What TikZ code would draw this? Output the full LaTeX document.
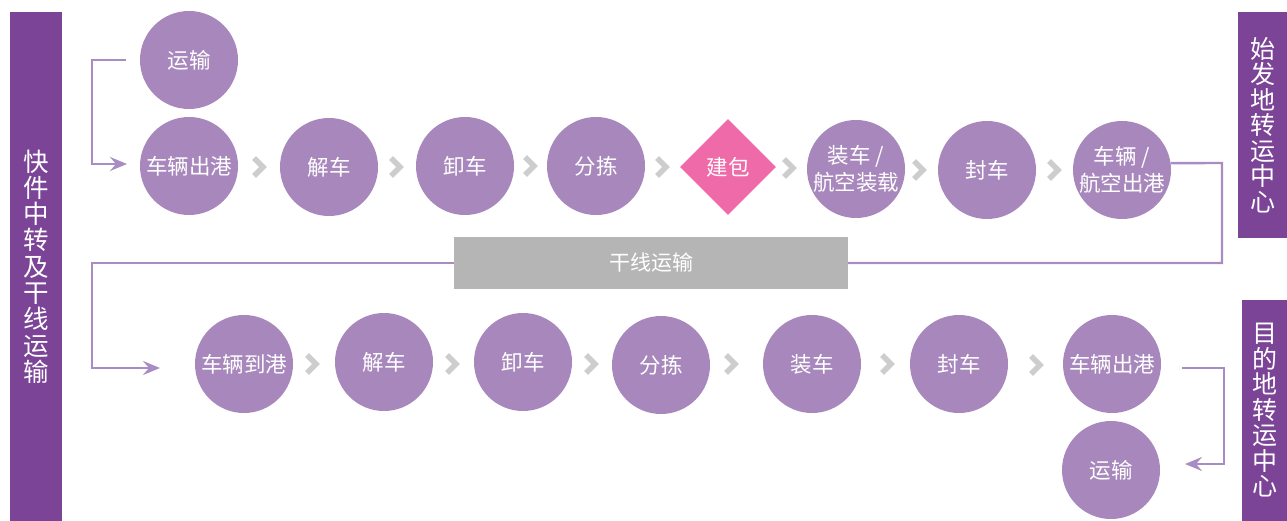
\documentclass[tikz,border=0pt]{standalone}
\usepackage{fontspec}
\setmainfont{Noto Sans CJK SC}
\usepackage{xcolor}
\usepackage{tikz}
\usetikzlibrary{shapes.geometric,arrows.meta}
\definecolor{barpurple}{HTML}{7B4497}
\definecolor{procpurple}{HTML}{A888BC}
\definecolor{packpink}{HTML}{EE6AA8}
\definecolor{trunkgray}{HTML}{B4B5B4}
\definecolor{chevgray}{HTML}{CDCDCD}
\definecolor{linkpurple}{HTML}{A98CC3}

\begin{document}
\begin{tikzpicture}[x=1pt,y=-1pt,
    proc/.style={circle,fill=procpurple,text=white,minimum size=98pt,inner sep=0pt,align=center,font=\fontsize{21.5}{27}\selectfont},
    pack/.style={diamond,fill=packpink,text=white,minimum width=96pt,minimum height=96pt,inner sep=0pt,font=\fontsize{21.5}{27}\selectfont},
    sidebar/.style={rectangle,fill=barpurple,text=white,inner sep=0pt,align=center},
    trunkbox/.style={rectangle,fill=trunkgray,text=white,minimum width=394pt,minimum height=52pt,inner sep=0pt,font=\fontsize{21}{26}\selectfont},
    chev/.style={draw=chevgray,line width=5.5pt,line join=miter},
    link/.style={draw=linkpurple,line width=2.4pt},
    linkarrow/.style={link,-{Stealth[length=17pt,width=14pt,inset=6pt]}}]
    \useasboundingbox (0,0) rectangle (1287,521);

    \node[sidebar,minimum width=52pt,minimum height=509pt,font=\fontsize{25.5}{26.3}\selectfont] (left) at (36,266.5) {快\\件\\中\\转\\及\\干\\线\\运\\输};
    \node[sidebar,minimum width=49pt,minimum height=226pt,font=\fontsize{25}{25.5}\selectfont] (origin) at (1262.5,125) {始\\发\\地\\转\\运\\中\\心};
    \node[sidebar,minimum width=45pt,minimum height=221pt,font=\fontsize{25}{25.5}\selectfont] (dest) at (1264.5,410.5) {目\\的\\地\\转\\运\\中\\心};

    \node[proc] (o0) at (189,60) {运输};
    \node[proc] (o1) at (189,166) {车辆出港};
    \node[proc] (o2) at (329,167) {解车};
    \node[proc] (o3) at (465,166) {卸车};
    \node[proc] (o4) at (596,166) {分拣};
    \node[pack] (o5) at (728,167) {建包};
    \node[proc] (o6) at (856,169) {装车 /\\航空装载};
    \node[proc] (o7) at (987,170) {封车};
    \node[proc] (o8) at (1122,170) {车辆 /\\航空出港};

    \node[trunkbox] (trunk) at (651,263) {干线运输};

    \node[proc] (d1) at (244,364) {车辆到港};
    \node[proc] (d2) at (384,362) {解车};
    \node[proc] (d3) at (523,362) {卸车};
    \node[proc] (d4) at (661,365) {分拣};
    \node[proc] (d5) at (812,364) {装车};
    \node[proc] (d6) at (959,364) {封车};
    \node[proc] (d7) at (1112,364) {车辆出港};
    \node[proc] (d8) at (1111,470) {运输};

    \foreach \x/\y in {260/167,397/167,531/166,663/167,790/168,920/170,1055/170,
                       313/364,453/364,592/364,732/364,888/364,1037/365}
        \draw[chev] (\x-6,\y-9) -- (\x+3,\y) -- (\x-6,\y+9);

    \coordinate (inA) at (126,60);
    \coordinate (inB) at (127,164);
    \coordinate (arrB) at (160,368);
    \coordinate (outA) at (1182,368);
    \coordinate (outB) at (1185,464);

    \draw[linkarrow] (inA) -- (92,60) |- (inB);
    \draw[link] (o8.8) -- (1222,163) |- (trunk.east);
    \draw[linkarrow] (trunk.west) -- (92,263) |- (arrB);
    \draw[linkarrow] (outA) -- (1224,368) |- (outB);
\end{tikzpicture}
\end{document}
